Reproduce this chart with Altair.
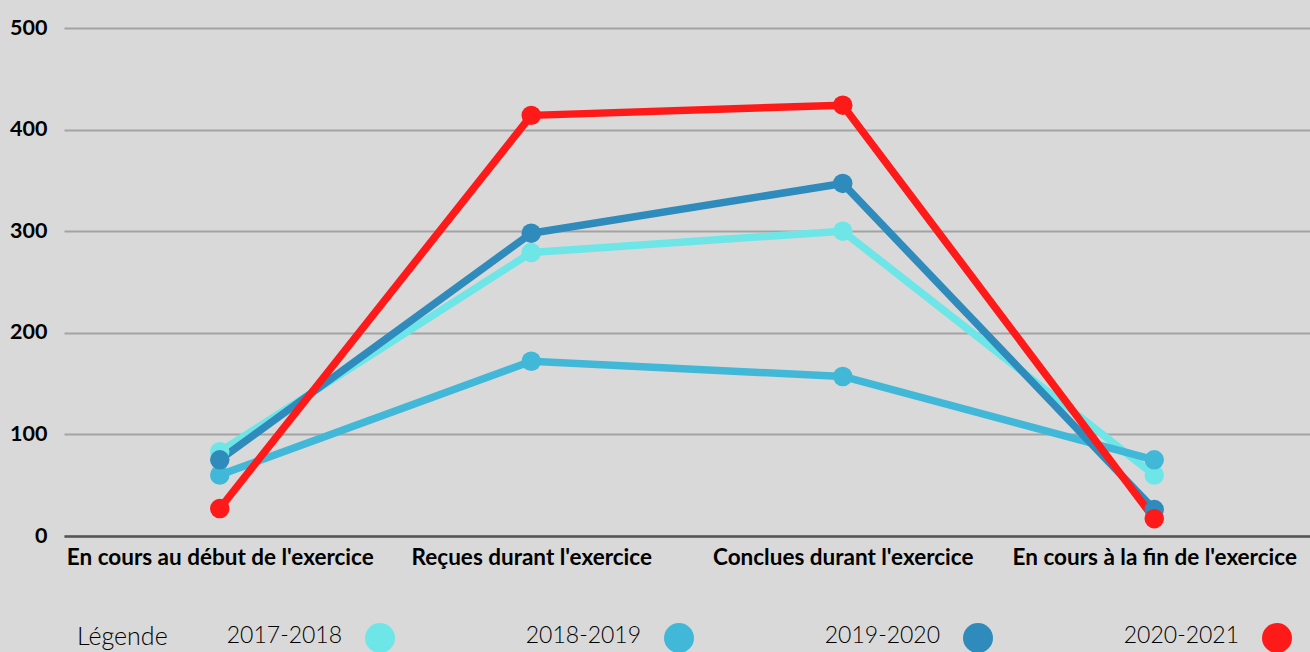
import altair as alt
import pandas as pd

categories = ["En cours au début de l'exercice", "Reçues durant l'exercice",
              "Conclues durant l'exercice", "En cours à la fin de l'exercice"]
series = ["2017-2018", "2018-2019", "2019-2020", "2020-2021"]
v2017 = [83, 279, 300, 60]
v2018 = [60, 172, 157, 75]
v2019 = [75, 298, 347, 26]
v2020 = [27, 414, 424, 17]
colors = ["#6ee6e8", "#42b8d8", "#2e8bbb", "#ff1a1a"]
y_ticks = [0, 100, 200, 300, 400, 500]
legend_title = ["Légende"]

rows = []
for s, vals in zip(series, [v2017, v2018, v2019, v2020]):
    for i, (c, v) in enumerate(zip(categories, vals)):
        rows.append({"cat": c, "serie": s, "val": v, "order": i})
df = pd.DataFrame(rows)
legend_df = pd.DataFrame({"serie": series})
title_df = pd.DataFrame({"t": legend_title})

FONT = "Lato"
color_scale = alt.Scale(domain=series, range=colors)

x = alt.X("cat:N", sort=categories, title=None,
          scale=alt.Scale(type="point", padding=0.5),
          axis=alt.Axis(labelAngle=0, labelFontWeight="bold", labelFontSize=22.5,
                        labelFont=FONT, labelColor="#000", labelPadding=10,
                        ticks=False, domain=True, domainColor="#555555",
                        domainWidth=2.5, grid=False, labelLimit=400))
y = alt.Y("val:Q", title=None,
          scale=alt.Scale(domain=[0, 500], nice=False),
          axis=alt.Axis(values=y_ticks, labelFontWeight="bold", labelFontSize=21.5,
                        labelFont=FONT, labelColor="#000", labelPadding=17,
                        ticks=False, domain=False, grid=True, gridColor="#a3a3a3",
                        gridWidth=2))
color = alt.Color("serie:N", scale=color_scale, legend=None)

lines = alt.Chart(df).mark_line(
    strokeWidth=7.5, strokeCap="round", strokeJoin="round",
    point=alt.OverlayMarkDef(filled=True, size=380, opacity=1)
).encode(x=x, y=y, color=color, order="order:Q")

# custom legend row (label to the left of its swatch)
lx = alt.X("serie:N", sort=series, title=None, axis=None,
           scale=alt.Scale(type="point", domain=series, range=[316, 1213], padding=0))
leg = alt.Chart(legend_df)
leg_dots = leg.mark_circle(size=900, opacity=1).encode(
    x=lx, y=alt.value(610), color=color)
leg_text = leg.mark_text(align="right", baseline="middle", dx=-38, font=FONT,
                         fontSize=23, fontWeight=300, color="#000").encode(
    x=lx, y=alt.value(608), text="serie:N")
leg_title = alt.Chart(title_df).mark_text(
    align="left", baseline="middle", font=FONT, fontSize=25, fontWeight=300,
    color="#000").encode(x=alt.value(13), y=alt.value(609), text="t:N")

chart = alt.layer(lines, leg_dots, leg_text, leg_title).resolve_scale(
    x="independent").resolve_axis(x="independent").properties(
    width=1246, height=508,
    autosize=alt.AutoSizeParams(type="none"),
    padding={"left": 64, "top": 28, "right": 0, "bottom": 116},
    background="#d9d9d9",
).configure_view(stroke=None)

chart.save("out.html", embed_options={"renderer": "svg", "actions": False})
